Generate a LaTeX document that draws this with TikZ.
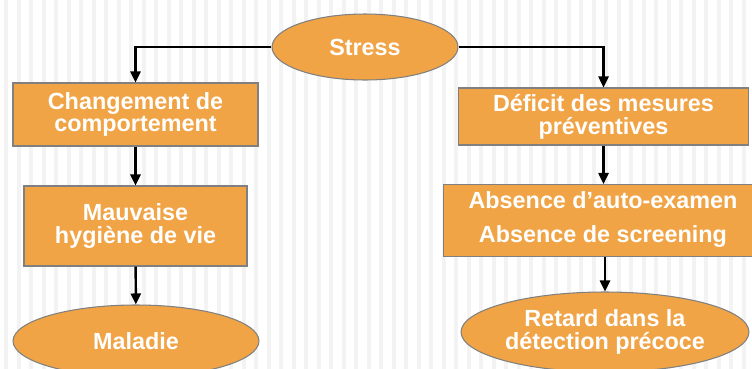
\documentclass[tikz,border=0pt]{standalone}
\usepackage{fontspec}
\setmainfont{Liberation Sans}
\usetikzlibrary{shapes.geometric,arrows.meta}
\definecolor{boxorange}{HTML}{F0A446}
\definecolor{boxedge}{HTML}{808080}
\definecolor{stripe}{HTML}{F3F3F3}
\tikzset{
  flowbox/.style={rectangle, fill=boxorange, draw=boxedge, line width=0.6pt,
    text=white, font=\bfseries\fontsize{13.3}{13}\selectfont, align=center, inner sep=0pt},
  flowoval/.style={ellipse, fill=boxorange, draw=boxedge, line width=0.6pt,
    text=white, font=\bfseries\fontsize{13.3}{13}\selectfont, align=center, inner sep=0pt},
  link/.style={->, line width=1.4pt}
}
\begin{document}
\begin{tikzpicture}[x=0.02cm, y=-0.02cm, >={Triangle[length=0.22cm,width=0.2cm]}]
  \useasboundingbox (0,0) rectangle (752,369);
  % faint background stripes
  \foreach \x in {4,16.5,...,752}
    \fill[stripe] (\x,0) rectangle ++(4,369);
  \begin{scope}
  \clip (0,0) rectangle (752,369);
  \node[flowoval, minimum width=3.72cm, minimum height=1.32cm] (stress) at (365,47) {Stress};
  \node[flowbox, minimum width=4.9cm, minimum height=1.26cm] (chgt) at (135.5,114.5) {Changement de\\comportement};
  \node[flowbox, minimum width=5.82cm, minimum height=1.14cm] (deficit) at (603.5,116.5) {Déficit des mesures\\préventives};
  \node[flowbox, minimum width=4.46cm, minimum height=1.6cm] (hygiene) at (135.5,226) {Mauvaise\\hygiène de vie};
  \node[flowbox, minimum width=6.18cm, minimum height=1.44cm] (absence) at (598,220.5)
    {\raisebox{0.1cm}{\begin{tabular}{@{}c@{}}\hspace*{0.2cm}Absence d'auto-examen\\[0.22cm]
     \hspace*{0.2cm}Absence de screening\end{tabular}}};
  \node[flowoval, minimum width=4.92cm, minimum height=1.44cm] (maladie) at (136,341) {Maladie};
  \node[flowoval, minimum width=5.76cm, minimum height=1.6cm] (retard) at (605,332) {Retard dans la\\détection précoce};
  \end{scope}
  \draw[link] (stress.west) -| (chgt.north);
  \draw[link] (stress.east) -| (deficit.north);
  \draw[link] (chgt) -- (hygiene);
  \draw[link] (hygiene) -- (maladie);
  \draw[link] (deficit.south) -- (deficit.south |- absence.north);
  \draw[link] (retard.north |- absence.south) -- (retard.north);
\end{tikzpicture}
\end{document}
